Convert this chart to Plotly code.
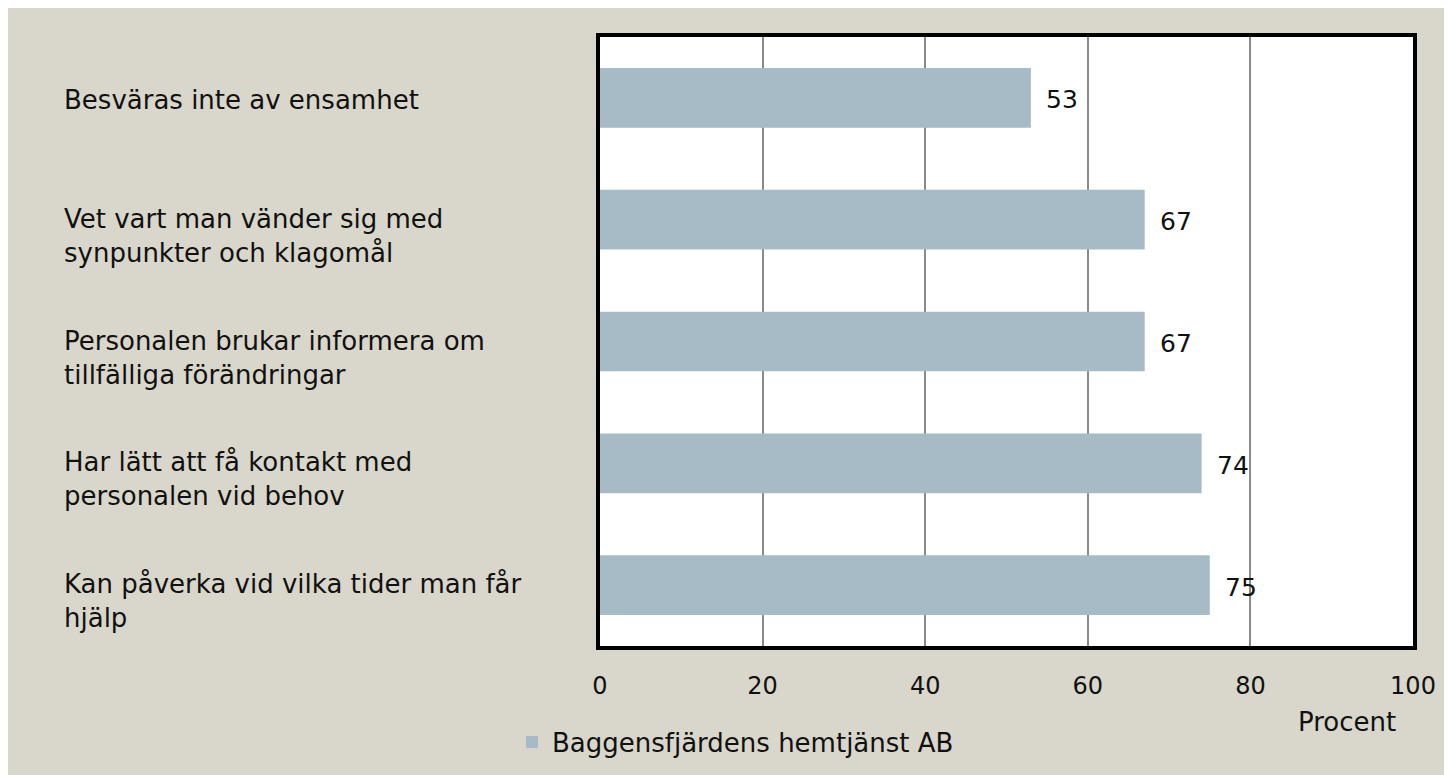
import plotly.graph_objects as go

categories = [
    "Besväras inte av ensamhet",
    "Vet vart man vänder sig med<br>synpunkter och klagomål",
    "Personalen brukar informera om<br>tillfälliga förändringar",
    "Har lätt att få kontakt med<br>personalen vid behov",
    "Kan påverka vid vilka tider man får<br>hjälp",
]
values = [53, 67, 67, 74, 75]
series_name = "Baggensfjärdens hemtjänst AB"
tick_vals = [0, 20, 40, 60, 80, 100]

W, H = 1452, 775
OFF = 8  # page body margin
L, T = 600 - OFF, 37 - OFF
R = W - (1413 - OFF)
B = H - (646 - OFF)
pw, ph = W - L - R, H - T - B

FONT = "DejaVu Sans"
FS_LBL = 26
FS_VAL = 25
FS_TICK = 24
BEIGE = "#D9D7CB"
BAR = "#A6BBC6"
TXT = "#111111"

def px_to_paper_x(px):
    # px given in page coords of the reference
    return (px - OFF - L) / pw

def py_to_paper_y(py):
    return (H - B - (py - OFF)) / ph

fig = go.Figure()
fig.add_trace(go.Bar(
    x=values, y=categories, orientation="h",
    marker=dict(color=BAR, line=dict(width=0)),
    width=0.49, name=series_name, showlegend=True,
))

annotations = []
for c in categories:
    two_line = "<br>" in c
    annotations.append(dict(
        x=px_to_paper_x(62), xref="paper", y=c, yref="y",
        text=c, showarrow=False, xanchor="left", yanchor="middle", align="left",
        yshift=-16 if two_line else -2,
        font=dict(family=FONT, size=FS_LBL, color=TXT),
    ))
for c, v in zip(categories, values):
    annotations.append(dict(
        x=v, xref="x", y=c, yref="y", text=str(v), showarrow=False,
        xanchor="left", yanchor="middle", xshift=13, yshift=-2,
        font=dict(family=FONT, size=FS_VAL, color=TXT),
    ))
annotations.append(dict(
    x=px_to_paper_x(1347), xref="paper", y=py_to_paper_y(722), yref="paper",
    text="Procent", showarrow=False, xanchor="center", yanchor="middle",
    font=dict(family=FONT, size=FS_LBL, color=TXT),
))

fig.update_layout(
    width=W, height=H,
    margin=dict(l=L, r=R, t=T, b=B, autoexpand=False),
    paper_bgcolor=BEIGE, plot_bgcolor="white",
    font=dict(family=FONT, size=FS_LBL, color=TXT),
    xaxis=dict(
        range=[0, 100], tickvals=tick_vals, ticks="", ticklabelstandoff=15,
        showgrid=True, gridcolor="#8A8A8A", gridwidth=1.5,
        showline=True, linecolor="black", linewidth=4, mirror=True,
        zeroline=False, tickfont=dict(family=FONT, size=FS_TICK, color=TXT),
        fixedrange=True,
    ),
    yaxis=dict(
        categoryorder="array", categoryarray=categories, autorange="reversed",
        showticklabels=False, ticks="", showgrid=False,
        showline=True, linecolor="black", linewidth=4, mirror=True,
        zeroline=False,
    ),
    legend=dict(
        orientation="h", x=px_to_paper_x(512), xanchor="left",
        y=py_to_paper_y(742), yanchor="middle",
        bgcolor="rgba(0,0,0,0)", font=dict(family=FONT, size=FS_LBL, color=TXT),
        itemwidth=30,
    ),
    annotations=annotations,
)

fig.write_html("out.html")
